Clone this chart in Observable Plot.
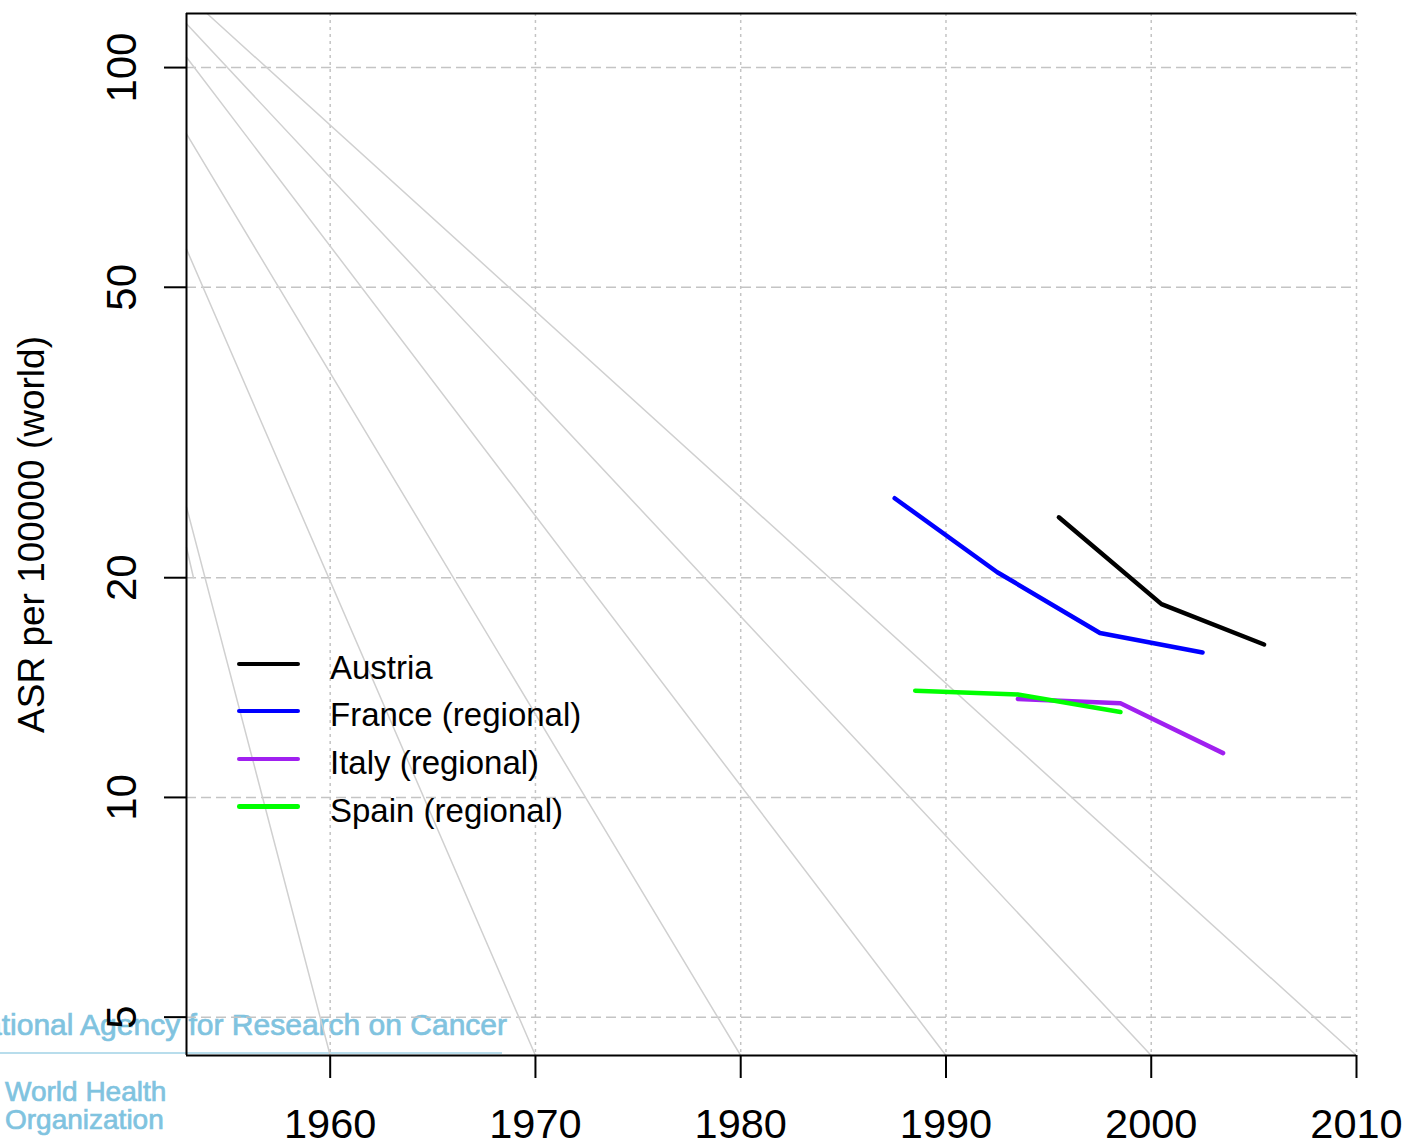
<!DOCTYPE html>
<html><head><meta charset="utf-8">
<script src="https://cdn.jsdelivr.net/npm/d3@7"></script>
<script src="https://cdn.jsdelivr.net/npm/@observablehq/plot@0.6"></script>
<style>
html,body{margin:0;padding:0;background:#fff;overflow:hidden;}
#wrap{position:relative;width:1408px;height:1142px;font-family:"Liberation Sans",Arial,sans-serif;}
.wm{position:absolute;color:#80c3df;white-space:nowrap;font-family:"Liberation Sans",Arial,sans-serif;-webkit-text-stroke:0.7px #80c3df;}
#chart{position:absolute;left:0;top:0;}
.sw{position:absolute;left:237px;width:63px;height:4.5px;border-radius:2.25px;}
.lt{position:absolute;left:330px;font-size:33px;line-height:33px;white-space:nowrap;color:#000;}
</style></head>
<body><div id="wrap">
<div class="wm" style="right:901px;top:1009.6px;font-size:30px;line-height:30px;">International Agency for Research on Cancer</div>
<div style="position:absolute;left:0;top:1052px;width:502px;height:2px;background:#b8ddec"></div>
<div class="wm" style="left:5px;top:1078px;font-size:28px;line-height:28px;">World Health</div>
<div class="wm" style="left:5px;top:1106.3px;font-size:28px;line-height:28px;">Organization</div>
<div id="chart"></div>
<div id="legend"></div>
</div>
<script>
// axes
const xDomain = [1953, 2010];
const yDomain = [4.43, 118.6];
const xTicks = [1960, 1970, 1980, 1990, 2000, 2010];
const yTicks = [5, 10, 20, 50, 100];

// series
const countries = ["Austria", "France (regional)", "Italy (regional)", "Spain (regional)"];
const colors = ["#000000", "#0000ff", "#a020f0", "#00ff00"];

const austriaYears = [1995.5, 2000.5, 2005.5];
const austriaASR = [24.2, 18.4, 16.2];
const franceYears = [1987.5, 1992.5, 1997.5, 2002.5];
const franceASR = [25.7, 20.35, 16.8, 15.8];
const italyYears = [1993.5, 1998.5, 2003.5];
const italyASR = [13.64, 13.46, 11.5];
const spainYears = [1988.5, 1993.5, 1998.5];
const spainASR = [14.0, 13.84, 13.09];

// grey reference (fan) lines
const fanStartYear = [1954, 1953, 1953, 1953, 1953, 1953, 1953];
const fanStartASR = [118.6, 114.8, 103.3, 81.1, 56.4, 25.0, 22.0];
const fanEndYear = [2010, 2000, 1990, 1980, 1970, 1960, 1953.34];
const fanEndASR = [4.43, 4.43, 4.43, 4.43, 4.43, 4.43, 20];

const seriesYears = [austriaYears, franceYears, italyYears, spainYears];
const seriesASR = [austriaASR, franceASR, italyASR, spainASR];
const rows = [];
countries.forEach((c, i) => seriesYears[i].forEach((yr, j) => rows.push({country: c, year: yr, asr: seriesASR[i][j]})));
const fanRows = [];
fanStartYear.forEach((s, i) => {
  fanRows.push({id: i, year: s, asr: fanStartASR[i]});
  fanRows.push({id: i, year: fanEndYear[i], asr: fanEndASR[i]});
});

const chart = Plot.plot({
  width: 1408, height: 1142,
  marginLeft: 186, marginRight: 52, marginTop: 13, marginBottom: 87,
  style: {background: "transparent", fontFamily: "'Liberation Sans', Arial, sans-serif", overflow: "visible", color: "black"},
  x: {domain: xDomain},
  y: {type: "log", domain: yDomain},
  color: {domain: countries, range: colors},
  marks: [
    Plot.gridX(xTicks, {stroke: "#c4c4c4", strokeOpacity: 1, strokeWidth: 1.5, strokeDasharray: "3,4"}),
    Plot.gridY(yTicks, {stroke: "#c4c4c4", strokeOpacity: 1, strokeWidth: 1.5, strokeDasharray: "10,5"}),
    Plot.line(fanRows, {x: "year", y: "asr", z: "id", stroke: "#d0d0d0", strokeWidth: 1.5}),
    Plot.line(rows, {x: "year", y: "asr", z: "country", stroke: "country", strokeWidth: 4.5, strokeLinecap: "round", strokeLinejoin: "round"}),
    Plot.ruleX([xDomain[0]], {stroke: "black", strokeWidth: 2}),
    Plot.ruleY([yDomain[0], yDomain[1]], {stroke: "black", strokeWidth: 2}),
    Plot.axisX(xTicks, {tickSize: 23, tickPadding: 30, fontSize: 41.5, tickFormat: d => String(d), label: null, strokeWidth: 2}),
    Plot.axisY(yTicks, {tickSize: 22, tickPadding: 29, tickRotate: -90, fontSize: 42, tickFormat: d => String(d), label: null, strokeWidth: 2}),
    Plot.text(["ASR per 100000 (world)"], {text: d => d, frameAnchor: "left", textAnchor: "middle", rotate: -90, dx: -143, lineAnchor: "bottom", fontSize: 37, fill: "black"})
  ]
});
document.getElementById("chart").appendChild(chart);

// legend
const legendCenters = [664, 711, 759, 806.5];
const leg = document.getElementById("legend");
countries.forEach((c, i) => {
  const sw = document.createElement("div");
  sw.className = "sw";
  sw.style.top = (legendCenters[i] - 2.25) + "px";
  sw.style.background = colors[i];
  leg.appendChild(sw);
  const t = document.createElement("div");
  t.className = "lt";
  t.style.top = (legendCenters[i] + 15 - 28) + "px";
  t.textContent = c;
  leg.appendChild(t);
});
</script>
</body></html>
